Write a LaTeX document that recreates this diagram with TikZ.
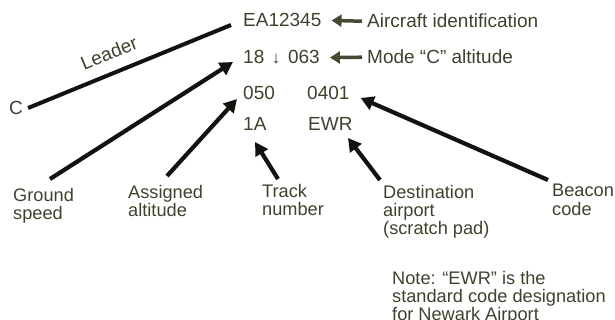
\documentclass[tikz,border=0pt]{standalone}
\usepackage{fontspec}
\setmainfont{Liberation Sans}
\usetikzlibrary{arrows.meta}
\definecolor{ink}{RGB}{64,64,46}
\definecolor{linec}{RGB}{18,18,14}
\definecolor{olive}{RGB}{72,72,52}
\begin{document}
\begin{tikzpicture}[x=1pt,y=-1pt,
  txt/.style={inner sep=0pt, anchor=base west, text=ink, font=\fontsize{19}{18}\selectfont},
  small/.style={txt, font=\fontsize{18.2}{18}\selectfont},
  lead/.style={line width=4pt, draw=linec},
  ptr/.style={line width=4.2pt, draw=linec, -{Triangle[length=13pt,width=14pt]}},
  tagarrow/.style={line width=3.5pt, draw=olive, -{Triangle[length=10pt,width=12pt]}}]
\useasboundingbox (0,0) rectangle (615,320);
% data block
\node[txt] (id)  at (243,27)  {EA12345};
\node[txt] (alt) at (243,64)  {18\hspace{0.4em}{\fontsize{17}{17}\selectfont↓}\hspace{0.4em}063};
\node[txt] (gsv) at (243,100) {050};
\node[txt] (bcn) at (307,100) {0401};
\node[txt] (trk) at (243,131) {1A};
\node[txt] (dst) at (308,131) {EWR};
\node[txt] (c)   at (9,115)   {C};
% right labels
\node[txt] (aid)  at (367,28) {Aircraft identification};
\node[txt] (mode) at (367,64) {Mode ``C'' altitude};
% leader
\node[txt, anchor=center, rotate=22] (lbl) at (109,53) {Leader};
% bottom labels
\node[small] (gs)   at (13,202)  {\vtop{\hbox{Ground}\hbox{speed}}};
\node[small] (asg)  at (128,199) {\vtop{\hbox{Assigned}\hbox{altitude}}};
\node[small] (trkl) at (262,198) {\vtop{\hbox{Track}\hbox{number}}};
\node[small] (dstl) at (383,199) {\vtop{\hbox{Destination}\hbox{airport}\hbox{(scratch pad)}}};
\node[small] (bcnl) at (552,197) {\vtop{\hbox{Beacon}\hbox{code}}};
\node[small] (note) at (392,284) {\vtop{\hbox{Note: ``EWR'' is the}\hbox{standard code designation}\hbox{for Newark Airport}}};
% connectors
\draw[lead] ([shift={(5,-7)}]c.base east) -- ([shift={(-12,-2)}]id.base west);
\draw[tagarrow] ([xshift=-5pt]aid.west) -- ([xshift=10pt]id.east);
\draw[tagarrow] ([xshift=-5pt]mode.west) -- ([xshift=10pt]alt.east);
\draw[ptr] ([shift={(37,-23)}]gs.base west) -- ([shift={(-10,-2)}]alt.base west);
\draw[ptr] ([shift={(39,-23)}]asg.base west) -- ([shift={(-6,-1)}]gsv.base west);
\draw[ptr] ([shift={(16,-19)}]trkl.base west) -- ([shift={(12,11)}]trk.base west);
\draw[ptr] ([shift={(-3,-19)}]dstl.base west) -- ([shift={(40,7)}]dst.base west);
\draw[ptr] ([shift={(-4,-17)}]bcnl.base west) -- ([shift={(11,-2)}]bcn.base east);
\end{tikzpicture}
\end{document}
